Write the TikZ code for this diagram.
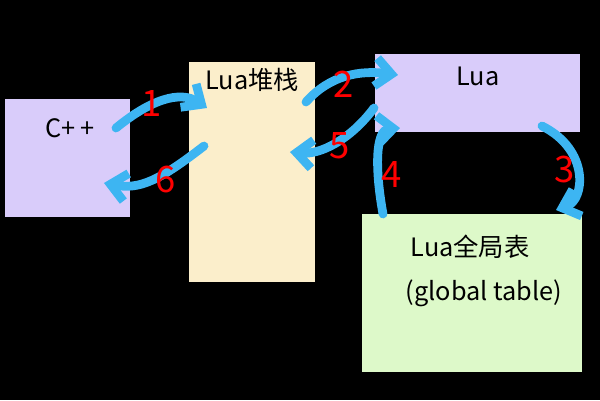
\documentclass[tikz,border=0pt]{standalone}
\usepackage{fontspec}
\setmainfont{Noto Sans CJK SC}
\usetikzlibrary{arrows.meta}
\definecolor{lavender}{HTML}{D9CCFA}
\definecolor{cream}{HTML}{FBEECB}
\definecolor{mint}{HTML}{DDF9C9}
\definecolor{pen}{HTML}{3DB5F2}
\tikzset{
  box/.style={draw=none, inner sep=0pt},
  flow/.style={pen, line width=5pt, line cap=round, -{Straight Barb[length=9pt,width=16pt]}},
  num/.style={red, font=\huge\fontseries{l}\selectfont}
}
\begin{document}
\begin{tikzpicture}[x=0.02cm, y=-0.02cm]
  % background
  \fill[black] (0,0) rectangle (600,400);

  % boxes
  \fill[lavender] (5,99) rectangle (130,217);
  \fill[cream] (189,62) rectangle (315,282);
  \fill[lavender] (375,54) rectangle (580,132);
  \fill[mint] (362,214) rectangle (582,372);

  % labels
  \node[box] (cpp) at (70,128) {\Large C+\,+};
  \node[box] (stack) at (252,80) {\Large Lua堆栈};
  \node[box] (lua) at (478,76) {\Large Lua};
  \node[box] (gtab) at (470,247) {\Large Lua全局表};
  \node[box] (gname) at (484,293) {\Large (global table)};

  % arrows
  \coordinate (a1) at (116,128);
  \coordinate (b1) at (207,108);
  \draw[flow] (a1) .. controls (150,100) and (180,90) .. (b1);
  \node[num] (n1) at (152,104) {1};

  \coordinate (a2) at (306,102);
  \coordinate (b2) at (398,75);
  \draw[flow] (a2) .. controls (330,75) and (360,70) .. (b2);
  \node[num] (n2) at (344,84) {2};

  \coordinate (a5) at (374,108);
  \coordinate (b5) at (290,152);
  \draw[flow] (a5) .. controls (350,140) and (320,155) .. (b5);
  \node[num] (n5) at (340,146) {5};

  \coordinate (a6) at (204,146);
  \coordinate (b6) at (104,183);
  \draw[flow] (a6) .. controls (160,180) and (140,190) .. (b6);
  \node[num] (n6) at (166,180) {6};

  \coordinate (a3) at (542,126);
  \coordinate (b3) at (556,210);
  \draw[flow] (a3) .. controls (590,150) and (585,200) .. (b3);
  \node[num] (n3) at (565,170) {3};

  \coordinate (a4) at (383,214);
  \coordinate (b4) at (400,128);
  \draw[flow] (a4) .. controls (375,170) and (375,130) .. (b4);
  \node[num] (n4) at (392,175) {4};
\end{tikzpicture}
\end{document}
